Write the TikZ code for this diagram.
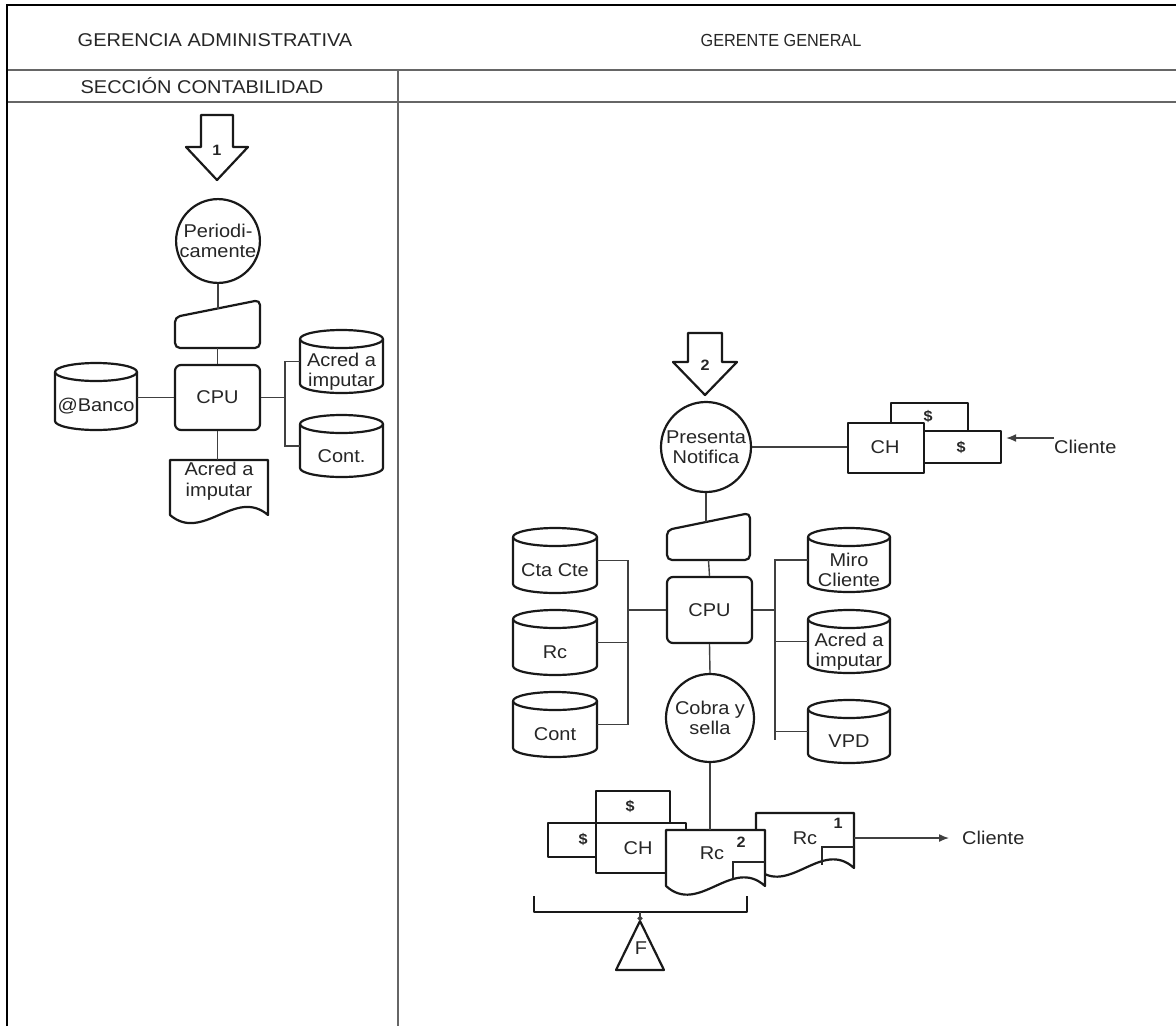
\documentclass[tikz,border=0pt]{standalone}
\usepackage{fontspec}
\setmainfont{Liberation Sans}[FakeStretch=1.08]
\usetikzlibrary{fit,arrows.meta}

% vertical database cylinder: name, x1, y1, x2, y2, label
\newcommand\dbcyl[6]{%
  \pgfmathsetmacro\cylcx{(#2+#4)/2}%
  \pgfmathsetmacro\cylrx{(#4-#2)/2}%
  \draw[shp, fill=white] (#2,#3+9) -- (#2,#5-9)
    arc[start angle=180, end angle=0, x radius=\cylrx, y radius=9] -- (#4,#3+9);
  \draw[shp] (\cylcx,#3+9) ellipse[x radius=\cylrx, y radius=9];
  \node[fit={(#2,#3)(#4,#5)}, inner sep=0pt] (#1) {};
  \node[txt] (#1-lbl) at (\cylcx,{(#3+#5)/2+10}) {#6};
}
% manual input: name, x1, y top-left, x2, y top-right, y bottom
\newcommand\maninput[6]{%
  \draw[shp, rounded corners=5pt] (#2,#3) -- (#4,#5) -- (#4,#6) -- (#2,#6) -- cycle;
  \node[fit={(#2,#5)(#4,#6)}, inner sep=0pt] (#1) {};
  \coordinate (#1-top) at ({(#2+#4)/2},{(#3+#5)/2});
}
% document with wavy bottom: name, x1, y top, x2, y bottom, wave control
\newcommand\docsh[6]{%
  \pgfmathsetmacro\docw{#4-#2}%
  \draw[shp, fill=white] (#2,#3) -- (#4,#3) -- (#4,#5)
    .. controls ({#4-\docw/3},{#5-#6}) and ({#2+\docw/3},{#5+#6}) .. (#2,#5) -- cycle;
  \node[fit={(#2,#3)(#4,#5)}, inner sep=0pt] (#1) {};
}
% block arrow pointing down: name, cx, y top, half shaft, half head, y head, y tip, label
\newcommand\blockarrow[8]{%
  \draw[shp, fill=white] (#2-#4,#3) -- (#2+#4,#3) -- (#2+#4,#6) -- (#2+#5,#6)
    -- (#2,#7) -- (#2-#5,#6) -- (#2-#4,#6) -- cycle;
  \node[fit={(#2-#5,#3)(#2+#5,#7)}, inner sep=0pt] (#1) {};
  \node[small] (#1-lbl) at (#2,#6+3) {#8};
}

\begin{document}
\begin{tikzpicture}[x=1pt, y=-1pt,
  shp/.style={line width=2.2pt, draw=black!90, line join=round},
  conn/.style={line width=1.4pt, draw=black!75},
  thinline/.style={line width=1.2pt, draw=black!85},
  txt/.style={font=\fontsize{18.5}{20.5}\selectfont, align=center, text=black!85, inner sep=0pt},
  small/.style={font=\bfseries\fontsize{15}{17}\selectfont, text=black!85, inner sep=0pt},
  head/.style={font=\fontsize{18.5}{20}\selectfont, text=black!85, inner sep=0pt},
  box/.style={shp, fill=white, inner sep=0pt, anchor=north west},
  tip/.style={-{Latex[length=10pt, width=8pt]}}]

\useasboundingbox (0,0) rectangle (1176,1026);

% lanes
\draw[line width=2.6pt] (7,1026) -- (7,5) -- (1176,5);
\draw[line width=1.5pt, black!60] (8,70) -- (1176,70);
\draw[line width=1.5pt, black!60] (8,102) -- (1176,102);
\draw[line width=1.5pt, black!60] (398,70) -- (398,1026);
\node[head] (laneA) at (215,40) {GERENCIA ADMINISTRATIVA};
\node[head, font=\fontsize{17.5}{19}\selectfont] (laneB) at (781,40) {\scalebox{0.86}[1]{GERENTE GENERAL}};
\node[head] (secA) at (202,86) {SECCIÓN CONTABILIDAD};

% ---------- Sección Contabilidad ----------
\blockarrow{arrA}{217}{115}{16}{31}{147}{180}{1}
\node[circle, shp, minimum size=82pt, txt] (perA) at (218,241) {Periodi-\\camente};
\maninput{manA}{175}{317}{260}{300}{348}
\node[shp, rounded corners=6pt, minimum width=85pt, minimum height=65pt, txt] (cpuA) at (217.5,397.5) {CPU};
\dbcyl{bancoA}{55}{363}{137}{430}{@Banco}
\dbcyl{acredA}{300}{330}{383}{393}{Acred a\\imputar}
\dbcyl{contA}{300}{415}{383}{477}{Cont.}
\docsh{docA}{170}{460}{268}{515}{28}
\node[txt] (docA-lbl) at (219,481) {Acred a\\imputar};

\draw[conn] (perA.south) -- (perA.south |- manA-top);
\draw[conn] (manA.south) -- (cpuA.north);
\draw[conn] (bancoA.east |- cpuA.west) -- (cpuA.west);
\coordinate (busA) at (285,397.5);
\draw[conn] (cpuA.east) -- (busA);
\draw[conn] (acredA.west) -| (busA);
\draw[conn] (contA.west) -| (busA);
\draw[conn] (cpuA.south) -- (cpuA.south |- docA.north);

% ---------- Gerente General ----------
\blockarrow{arrB}{705}{333}{17}{32}{362}{395}{2}
\node[circle, shp, minimum size=90pt, txt] (presB) at (706,447) {Presenta\\Notifica};

\node[box, minimum width=77pt, minimum height=28pt] (dolTopB) at (890,402) {};
\node[box, minimum width=78pt, minimum height=32pt] (dolB) at (922,430) {};
\node[box, minimum width=76pt, minimum height=50pt] (chB) at (847,422) {};
\node[small] (dolTopB-lbl) at (928,416) {\$};
\node[small] (dolB-lbl) at (961,447) {\$};
\node[txt] (chB-lbl) at (885,447) {CH};
\node[txt, anchor=west] (cliB) at (1054,447) {Cliente};
\draw[conn] (presB.east) -- (presB.east -| chB.west);
\draw[conn, tip, shorten >=4pt] ([yshift=9pt]cliB.west) -- ([yshift=9pt]cliB.west -| dolB.east);

\maninput{manB}{667}{530}{750}{513}{560}
\node[shp, rounded corners=6pt, minimum width=85pt, minimum height=66pt, txt] (cpuB) at (709.5,610) {CPU};
\node[circle, shp, minimum size=88pt, txt] (cobB) at (710,718) {Cobra y\\sella};

\dbcyl{ctaB}{513}{528}{597}{593}{Cta Cte}
\dbcyl{rcB}{513}{610}{597}{675}{Rc}
\dbcyl{contB}{513}{692}{597}{757}{Cont}
\dbcyl{miroB}{808}{528}{890}{592}{Miro\\Cliente}
\dbcyl{acredB}{808}{610}{890}{673}{Acred a\\imputar}
\dbcyl{vpdB}{808}{700}{890}{763}{VPD}

\draw[conn] (presB.south) -- (presB.south |- manB-top);
\draw[conn] (manB.south) -- (cpuB.north);
\coordinate (busL) at (628,610);
\draw[conn] (cpuB.west) -- (busL);
\draw[conn] (ctaB.east) -| (busL);
\draw[conn] (rcB.east) -| (busL);
\draw[conn] (contB.east) -| (busL);
\coordinate (busR) at (775,610);
\coordinate (busRend) at (775,740);
\draw[conn] (cpuB.east) -- (busR);
\draw[conn] (miroB.west) -| (busR);
\draw[conn] (acredB.west) -| (busR);
\draw[conn] (vpdB.west) -| (busR);
\draw[conn] (busR) -- (busRend);
\draw[conn] (cpuB.south) -- (cobB.north);

% cheque, cash and receipts
\node[box, minimum width=74pt, minimum height=32pt] (dolTopC) at (595,790) {};
\node[box, minimum width=50pt, minimum height=34pt] (dolC) at (547,822) {};
\node[box, minimum width=90pt, minimum height=50pt] (chC) at (595,822) {};
\node[small] (dolTopC-lbl) at (630,806) {\$};
\node[small] (dolC-lbl) at (583,839) {\$};
\node[txt] (chC-lbl) at (638,848) {CH};

\docsh{rcOne}{756}{813}{854}{868}{30}
\node[txt] (rcOne-lbl) at (805,838) {Rc};
\node[small] (rcOne-num) at (838,823) {1};
\draw[thinline] (822,865) -- (822,847) -- (854,847);

\docsh{rcTwo}{666}{830}{765}{886}{30}
\node[txt] (rcTwo-lbl) at (712,853) {Rc};
\node[small] (rcTwo-num) at (741,842) {2};
\draw[thinline] (733,879) -- (733,862) -- (765,862);

\draw[conn] (cobB.south) -- (cobB.south |- rcTwo.north);
\node[txt, anchor=west] (cliC) at (962,838) {Cliente};
\draw[conn, tip, shorten >=13pt] (rcOne.east |- cliC.west) -- (cliC.west);

% file
\draw[shp] (534,896) -- (534,912) -- (747,912) -- (747,896);
\coordinate (brk) at (640,912);
\draw[shp] (640,921) -- (664,970) -- (616,970) -- cycle;
\node[fit={(616,921)(664,970)}, inner sep=0pt] (triF) {};
\node[txt] (triF-lbl) at (641,948) {F};
\draw[conn, -{Circle[length=5pt]}] (brk) -- (brk |- triF.north);
\end{tikzpicture}
\end{document}
